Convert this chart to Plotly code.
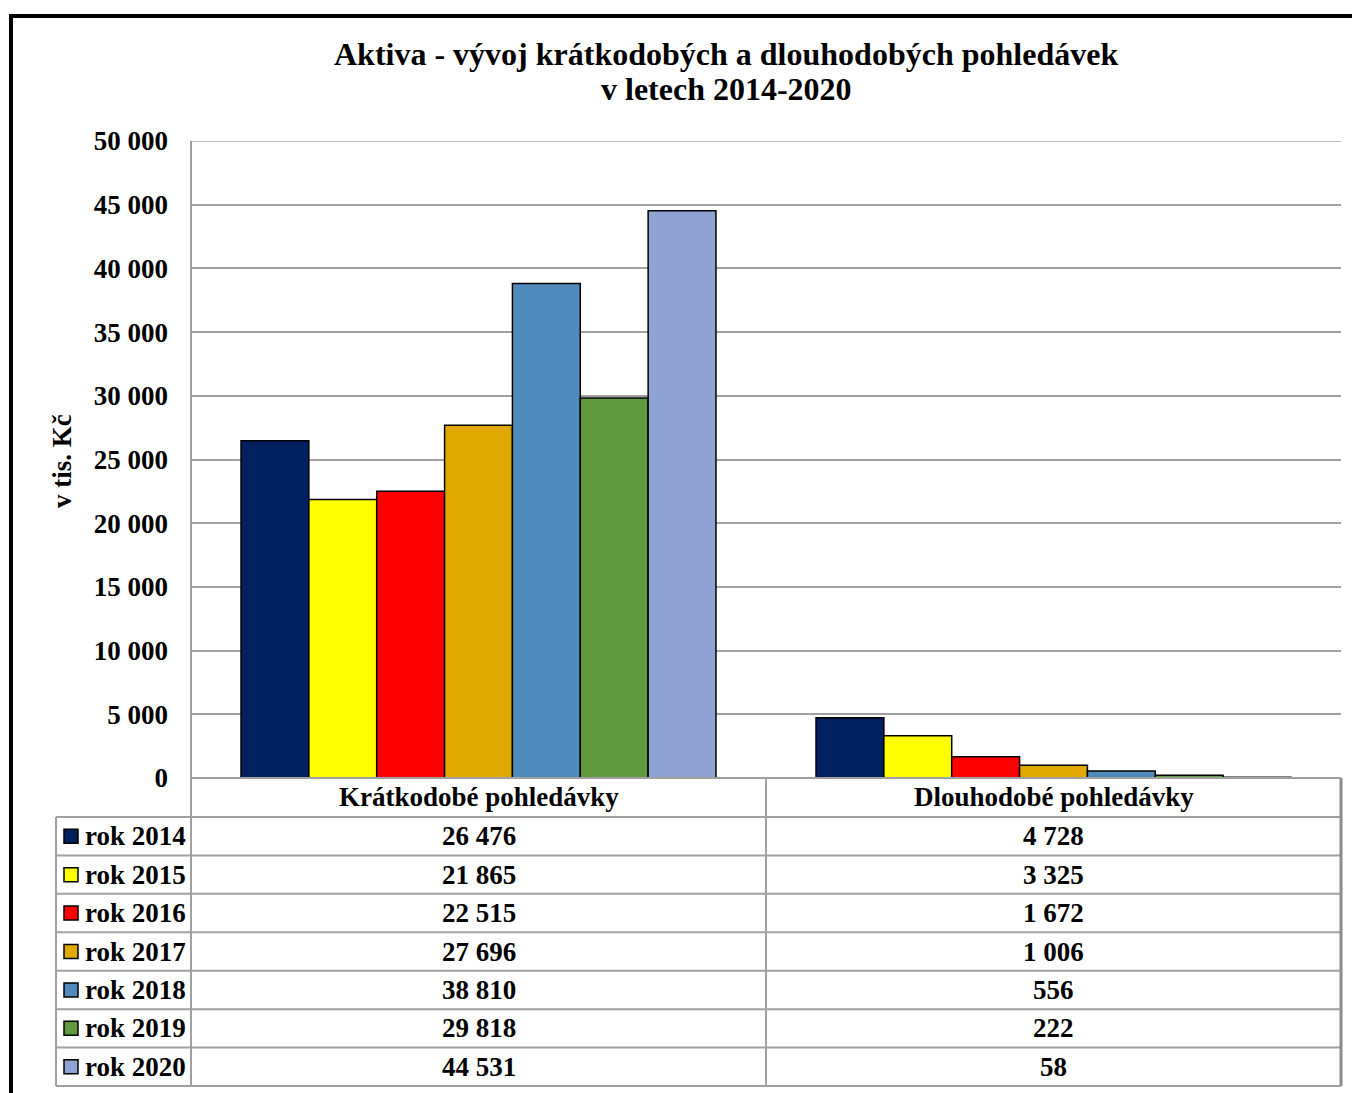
import plotly.graph_objects as go

categories = ["Krátkodobé pohledávky", "Dlouhodobé pohledávky"]
series_names = ["rok 2014", "rok 2015", "rok 2016", "rok 2017", "rok 2018", "rok 2019", "rok 2020"]
kratkodobe = [26476, 21865, 22515, 27696, 38810, 29818, 44531]
dlouhodobe = [4728, 3325, 1672, 1006, 556, 222, 58]
colors = ["#002060", "#FFFF00", "#FF0000", "#E0A800", "#4F8BBD", "#619A3E", "#8FA3D3"]
y_ticks = [0, 5000, 10000, 15000, 20000, 25000, 30000, 35000, 40000, 45000, 50000]
title_lines = ["Aktiva - vývoj krátkodobých a dlouhodobých pohledávek", "v letech 2014-2020"]
y_title = "v tis. Kč"

# page body margin offset (browser default 8px)
OX, OY = 8, 8
W, H = 1360, 1085
def px(x):
    return (x - OX) / W
def py(y):
    return 1 - (y - OY) / H

def fmt(v):
    return f"{v:,}".replace(",", " ")

FONT = "Liberation Serif"
FS = 27
GRID = "#A0A0A0"

# layout geometry (screen pixels)
L, R, T, B = 191, 1341, 141, 778
TBL_L = 56
HDR_B = 817
TBL_B = 1086
MID = (L + R) / 2

fig = go.Figure()
for i, name in enumerate(series_names):
    fig.add_trace(go.Bar(
        x=categories,
        y=[kratkodobe[i], dlouhodobe[i]],
        name=name,
        marker=dict(color=colors[i], line=dict(color="black", width=1.5)),
        showlegend=False,
    ))

shapes = []
annotations = []

# outer thick border (cropped chart frame)
shapes.append(dict(type="rect", xref="paper", yref="paper",
                   x0=px(11), x1=px(1420), y0=py(1200), y1=py(16),
                   line=dict(color="black", width=4), layer="above"))

# top gridline at the axis maximum
shapes.append(dict(type="line", xref="paper", yref="y",
                   x0=px(L), x1=px(R), y0=y_ticks[-1], y1=y_ticks[-1],
                   line=dict(color=GRID, width=1.5)))

# table grid lines
nrows = len(series_names)
row_h = (TBL_B - HDR_B) / nrows
row_edges = [HDR_B + k * row_h for k in range(nrows + 1)]
for yy in row_edges:
    shapes.append(dict(type="line", xref="paper", yref="paper",
                       x0=px(TBL_L), x1=px(R), y0=py(yy), y1=py(yy),
                       line=dict(color=GRID, width=2)))
shapes.append(dict(type="line", xref="paper", yref="paper",
                   x0=px(L), x1=px(R), y0=py(B), y1=py(B),
                   line=dict(color=GRID, width=2), layer="above"))
for xx, y0 in [(TBL_L, HDR_B), (L, T), (MID, B), (R, B)]:
    shapes.append(dict(type="line", xref="paper", yref="paper",
                       x0=px(xx), x1=px(xx), y0=py(y0), y1=py(TBL_B),
                       line=dict(color="#8C8C8C" if xx == R else GRID, width=3 if xx == R else 2)))

# header labels
for ci, cat in enumerate(categories):
    annotations.append(dict(x=ci, xref="x", y=py((B + HDR_B) / 2), yref="paper",
                            text=cat, showarrow=False, xanchor="center", yanchor="middle",
                            font=dict(family=FONT, size=FS, color="black", weight="bold")))

# table rows
for i, name in enumerate(series_names):
    yc = (row_edges[i] + row_edges[i + 1]) / 2
    shapes.append(dict(type="rect", xref="paper", yref="paper",
                       x0=px(64), x1=px(78), y0=py(yc + 7), y1=py(yc - 7),
                       fillcolor=colors[i], line=dict(color="black", width=1.5)))
    annotations.append(dict(x=px(83), xref="paper", y=py(yc), yref="paper",
                            text=name, showarrow=False, xanchor="left", yanchor="middle",
                            font=dict(family=FONT, size=FS, color="black", weight="bold")))
    for ci, vals in enumerate([kratkodobe, dlouhodobe]):
        annotations.append(dict(x=ci, xref="x", y=py(yc), yref="paper",
                                text=fmt(vals[i]), showarrow=False, xanchor="center", yanchor="middle",
                                font=dict(family=FONT, size=FS, color="black", weight="bold")))

# title (two lines)
for ty, line in zip([54, 89], title_lines):
    annotations.append(dict(x=px(726), xref="paper", y=py(ty), yref="paper",
                            text=line, showarrow=False, xanchor="center", yanchor="middle",
                            font=dict(family=FONT, size=32, color="black", weight="bold")))
# y-axis title
annotations.append(dict(x=px(62), xref="paper", y=py(461), yref="paper",
                        text=y_title, showarrow=False, textangle=-90,
                        xanchor="center", yanchor="middle",
                        font=dict(family=FONT, size=FS, color="black", weight="bold")))

fig.update_layout(
    width=W, height=H, autosize=False,
    margin=dict(l=0, r=0, t=0, b=0, pad=0),
    paper_bgcolor="white", plot_bgcolor="white",
    barmode="group", bargap=0.174, bargroupgap=0,
    font=dict(family=FONT, size=FS, color="black", weight="bold"),
    shapes=shapes, annotations=annotations,
    xaxis=dict(domain=[px(L), px(R)], range=[-0.5, 1.5], showticklabels=False,
               showgrid=False, zeroline=False, showline=False, ticks="", automargin=False),
    yaxis=dict(domain=[py(B), py(T)], range=[0, 50000],
               tickvals=y_ticks, ticktext=[fmt(v) for v in y_ticks],
               showgrid=True, gridcolor=GRID, gridwidth=1.5, automargin=False,
               zeroline=False, showline=False, ticks="", ticklabelstandoff=22,
               tickfont=dict(family=FONT, size=FS, color="black", weight="bold")),
)

fig.write_html("out.html")
